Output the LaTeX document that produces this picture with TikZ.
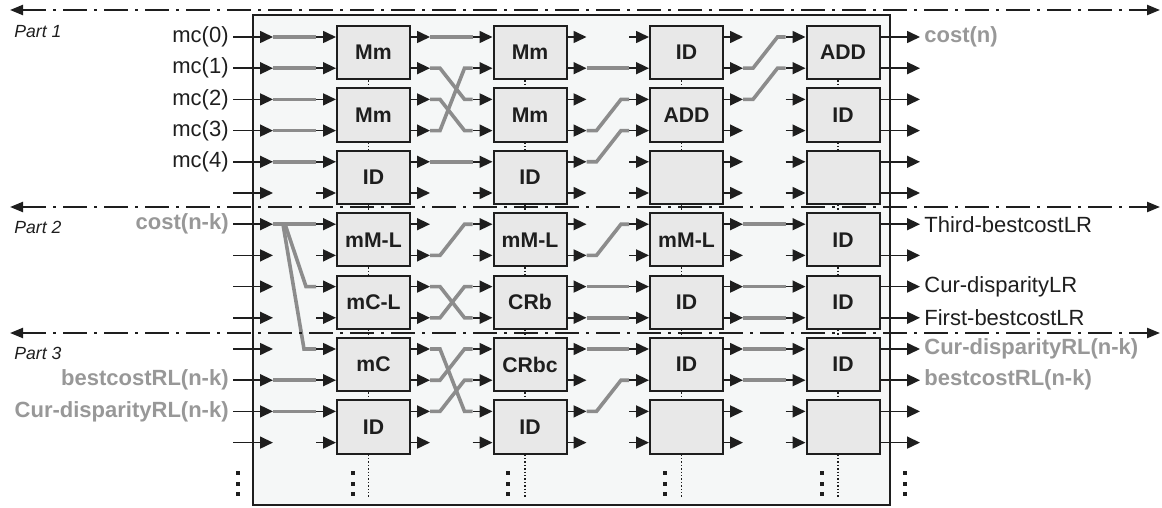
\documentclass[tikz,border=0pt]{standalone}
\usepackage{fontspec}
\setmainfont{Liberation Sans}
\usetikzlibrary{arrows.meta,calc}
\definecolor{wiregray}{RGB}{140,140,140}
\definecolor{labelgray}{RGB}{152,152,152}
\definecolor{blockfill}{RGB}{232,232,232}
\definecolor{framefill}{RGB}{245,247,247}
\definecolor{ink}{RGB}{30,30,30}
\tikzset{
  blk/.style={draw=ink, line width=1pt, fill=blockfill, minimum width=36.5pt, minimum height=26.6pt, inner sep=0pt, text=ink, font=\fontsize{10.6}{12}\selectfont\bfseries},
  sig/.style={draw=ink, line width=0.8pt, -{Triangle[length=6.5pt,width=6pt]}},
  wire/.style={draw=wiregray, line width=1.8pt},
  vdots/.style={draw=ink, line width=0.9pt, dash pattern=on 0.7pt off 1pt},
  partline/.style={draw=ink, line width=1.1pt, dash pattern=on 12pt off 3.5pt on 1.5pt off 3.5pt, {Triangle[length=6.5pt,width=5pt]}-{Triangle[length=6.5pt,width=5pt]}},
  lab/.style={inner sep=2pt, text=ink, font=\fontsize{11}{13}\selectfont},
  glab/.style={inner sep=2pt, text=labelgray, font=\fontsize{11}{13}\selectfont\bfseries},
  partlab/.style={anchor=west, inner sep=0pt, text=ink, font=\fontsize{8.8}{10}\selectfont\itshape}
}
\begin{document}
\begin{tikzpicture}[x=0.5pt,y=-0.5pt]
\useasboundingbox (0,0) rectangle (1162,508);
\draw[fill=framefill, draw=ink, line width=1.3pt] (253,15) rectangle (890,505);
% ports of every row
\foreach \r in {0,...,13} {
  \pgfmathsetmacro\y{37+31.2*\r}
  \coordinate (x-\r) at (233,\y);
  \coordinate (o0-\r) at (273,\y);
  \coordinate (q-\r) at (920,\y);
}
\foreach \c/\cx in {1/373.5,2/530,3/686.5,4/843} {
  \foreach \r in {0,...,13} {
    \pgfmathsetmacro\y{37+31.2*\r}
    \coordinate (i\c-\r) at (\cx-57.5,\y);
    \coordinate (o\c-\r) at (\cx+56.5,\y);
  }
}
% column 1
\node[blk] (b10) at (373.5,52.6) {Mm};
\node[blk] (b11) at (373.5,115) {Mm};
\node[blk] (b12) at (373.5,177.4) {ID};
\node[blk] (b13) at (373.5,239.8) {mM-L};
\node[blk] (b14) at (373.5,302.2) {mC-L};
\node[blk] (b15) at (373.5,364.6) {mC};
\node[blk] (b16) at (373.5,427) {ID};
% column 2
\node[blk] (b20) at (530,52.6) {Mm};
\node[blk] (b21) at (530,115) {Mm};
\node[blk] (b22) at (530,177.4) {ID};
\node[blk] (b23) at (530,239.8) {mM-L};
\node[blk] (b24) at (530,302.2) {CRb};
\node[blk] (b25) at (530,364.6) {CRbc};
\node[blk] (b26) at (530,427) {ID};
% column 3
\node[blk] (b30) at (686.5,52.6) {ID};
\node[blk] (b31) at (686.5,115) {ADD};
\node[blk] (b32) at (686.5,177.4) {};
\node[blk] (b33) at (686.5,239.8) {mM-L};
\node[blk] (b34) at (686.5,302.2) {ID};
\node[blk] (b35) at (686.5,364.6) {ID};
\node[blk] (b36) at (686.5,427) {};
% column 4
\node[blk] (b40) at (843,52.6) {ADD};
\node[blk] (b41) at (843,115) {ID};
\node[blk] (b42) at (843,177.4) {};
\node[blk] (b43) at (843,239.8) {ID};
\node[blk] (b44) at (843,302.2) {ID};
\node[blk] (b45) at (843,364.6) {ID};
\node[blk] (b46) at (843,427) {};
% dotted links between blocks
\foreach \c in {1,...,4} {
  \foreach \k in {0,...,5} {
    \pgfmathtruncatemacro\n{\k+1}
    \draw[vdots] ([xshift=-2.5pt]b\c\k.south) -- ([xshift=-2.5pt]b\c\n.north);
  }
  \draw[vdots] ([xshift=-2.5pt]b\c6.south) -- ++(0,42);
}
% gray routing wires
\foreach \c/\a/\b in {0/0/0,0/1/1,0/2/2,0/3/3,0/4/4,0/6/6,0/11/11,0/12/12,
  1/0/0,1/1/2,1/2/3,1/3/1,1/4/4,1/7/6,1/8/9,1/9/8,1/10/12,1/11/10,1/12/11,
  2/1/1,2/3/2,2/4/3,2/7/6,2/8/8,2/9/9,2/10/10,2/12/11,
  3/1/0,3/2/1,3/6/6,3/8/8,3/9/9,3/10/10,3/11/11} {
  \pgfmathtruncatemacro\n{\c+1}
  \draw[wire] (o\c-\a) -- ++(10,0) -- ($(i\n-\b)+(-8,0)$) -- (i\n-\b);
}
\draw[wire] ($(o0-6)+(12,0)$) -- ($(i1-8)+(-10,0)$) -- (i1-8);
\draw[wire] ($(o0-6)+(10,0)$) -- ($(i1-10)+(-12,0)$) -- (i1-10);
% black arrows
\foreach \r in {0,...,13} {
  \pgfmathtruncatemacro\k{\r/2}
  \draw[sig] (x-\r) -- (o0-\r);
  \draw[sig] (q-\r -| b4\k.east) -- (q-\r);
  \foreach \c in {1,2,3,4} {
    \draw[sig] (i\c-\r) -- (i\c-\r -| b\c\k.west);
    \ifnum\c<4 \draw[sig] (o\c-\r -| b\c\k.east) -- (o\c-\r);\fi
  }
}
% vertical ellipses
\foreach \x in {238,353,508,665,822,905}
  \foreach \y in {473,484,494}
    \fill[ink] (\x-2,\y-2) rectangle (\x+2,\y+2);
% part borders
\draw[partline] (10,10) -- (1160,10);
\draw[partline] (10,207) -- (1160,207);
\draw[partline] (10,333) -- (1160,333);
\node[partlab] (p1) at (14,32) {Part 1};
\node[partlab] (p2) at (14,227) {Part 2};
\node[partlab] (p3) at (14,353) {Part 3};
% inputs
\node[lab, anchor=east] (mc0) at (x-0) {mc(0)};
\node[lab, anchor=east] (mc1) at (x-1) {mc(1)};
\node[lab, anchor=east] (mc2) at (x-2) {mc(2)};
\node[lab, anchor=east] (mc3) at (x-3) {mc(3)};
\node[lab, anchor=east] (mc4) at (x-4) {mc(4)};
\node[glab, anchor=east] (costin) at (x-6) {cost(n-k)};
\node[glab, anchor=east] (bestin) at (x-11) {bestcostRL(n-k)};
\node[glab, anchor=east] (curin) at (x-12) {Cur-disparityRL(n-k)};
% outputs
\node[glab, anchor=west] (costout) at (q-0) {cost(n)};
\node[lab, anchor=west] (third) at (q-6) {Third-bestcostLR};
\node[lab, anchor=west] (curlr) at (q-8) {Cur-disparityLR};
\node[lab, anchor=west] (firstlr) at (q-9) {First-bestcostLR};
\node[glab, anchor=west] (currl) at (q-10) {Cur-disparityRL(n-k)};
\node[glab, anchor=west] (bestout) at (q-11) {bestcostRL(n-k)};
\end{tikzpicture}
\end{document}
